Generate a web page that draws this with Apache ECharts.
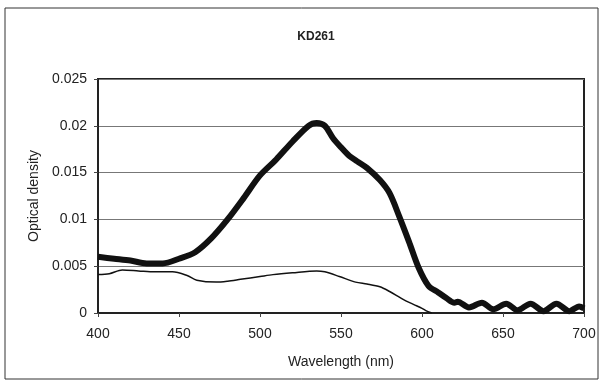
<!DOCTYPE html>
<html><head><meta charset="utf-8">
<script src="https://cdn.jsdelivr.net/npm/echarts@6/dist/echarts.min.js"></script>
<style>html,body{margin:0;padding:0;background:#fff}#c{width:603px;height:385px}</style>
</head><body><div id="c"></div>
<script>
const wavelengthsThick = [400,410,420,430,440,450,460,470,480,490,500,510,520,530,535,540,545,550,555,560,566,574,580,586,592,598,604,610,615,620,622,629,637,644,652,659,667,675,683,691,697,700];
const densityThick = [0.0060,0.0058,0.0056,0.0053,0.0053,0.0058,0.0065,0.0080,0.0100,0.0123,0.0147,0.0164,0.0183,0.0200,0.0203,0.0200,0.0187,0.0177,0.0168,0.0162,0.0155,0.0142,0.0128,0.0103,0.0076,0.0048,0.0029,0.0022,0.0016,0.0011,0.0012,0.0006,0.0011,0.0004,0.0010,0.0003,0.0010,0.0002,0.0010,0.0002,0.0007,0.0005];
const wavelengthsThin = [400,407,415,425,435,446,455,461,473,480,488,500,508,520,535,540,549,559,566,574,580,586,590,595,600,603,606];
const densityThin = [0.0041,0.0042,0.0046,0.0045,0.0044,0.0044,0.0040,0.0035,0.0033,0.0034,0.0036,0.0039,0.0041,0.0043,0.0045,0.0044,0.0039,0.0033,0.0031,0.0028,0.0023,0.0017,0.0013,0.0009,0.0005,0.0002,0.0];
const yTicks = [0,0.005,0.01,0.015,0.02,0.025];
const xTicks = [400,450,500,550,600,650,700];

const chart = echarts.init(document.getElementById('c'), null, {renderer:'canvas'});
const font = 'Liberation Sans, Arial, sans-serif';
chart.setOption({
  animation:false,
  backgroundColor:'#fff',
  title:{text:'KD261', left:311, top:26, textAlign:'center', textStyle:{fontFamily:font,fontSize:12,fontWeight:'bold',color:'#222'}},
  graphic:[{type:'rect', shape:{x:5,y:8,width:593,height:371}, style:{fill:'none',stroke:'#333',lineWidth:1}, silent:true}],
  grid:{left:98, right:19, top:79, bottom:72, show:true, borderColor:'#222', borderWidth:2, backgroundColor:'transparent'},
  xAxis:{type:'value', min:400, max:700, interval:50,
    name:'Wavelength (nm)', nameLocation:'middle', nameGap:42,
    nameTextStyle:{fontFamily:font,fontSize:14,color:'#222'},
    axisLine:{show:true,onZero:false,lineStyle:{color:'#222',width:2}},
    axisTick:{show:true,length:4,lineStyle:{color:'#444',width:1}},
    axisLabel:{fontFamily:font,fontSize:14,color:'#222',margin:14,formatter:v=>xTicks.includes(v)?String(v):''},
    splitLine:{show:false}},
  yAxis:{type:'value', min:0, max:0.025, interval:0.005,
    name:'Optical density', nameLocation:'middle', nameGap:54,
    nameTextStyle:{fontFamily:font,fontSize:14,color:'#222'},
    axisLine:{show:true,lineStyle:{color:'#222',width:2}},
    axisTick:{show:true,length:4,lineStyle:{color:'#444',width:1}},
    axisLabel:{fontFamily:font,fontSize:14,color:'#222',margin:11,formatter:v=>{const t=yTicks.find(k=>Math.abs(k-v)<1e-9);return t===undefined?'':String(t);}},
    splitLine:{show:true,lineStyle:{color:'#777',width:1}}},
  series:[
    {type:'line', data:wavelengthsThick.map((w,i)=>[w,densityThick[i]]), showSymbol:false, smooth:0.3, lineStyle:{color:'#111',width:6}, clip:true},
    {type:'line', data:wavelengthsThin.map((w,i)=>[w,densityThin[i]]), showSymbol:false, smooth:0.3, lineStyle:{color:'#111',width:1.5}, clip:true}
  ]
});
</script></body></html>
